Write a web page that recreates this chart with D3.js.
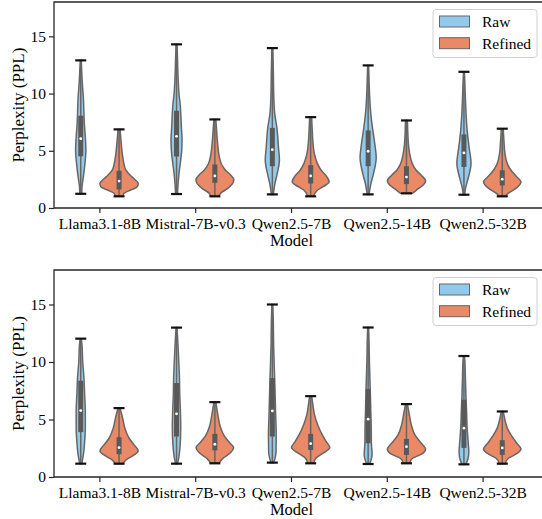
<html>
<head>
<style>
    body { margin: 0px; background: #fff; }
    text { font-family: "Liberation Serif", "Times New Roman", serif; fill: #000; }
</style>
</head>
<body>
<svg id="viz"></svg>
<script src="https://d3js.org/d3.v7.min.js"></script>
<script>
var width = 542, height = 519;

var models = ["Llama3.1-8B", "Mistral-7B-v0.3", "Qwen2.5-7B", "Qwen2.5-14B", "Qwen2.5-32B"];
var groups = ["Raw", "Refined"];
var yTicks = [0, 5, 10, 15];

// [min, q1, median, q3, max] per model
var rawStats1 = [[1.24, 4.52, 6.06, 8.06, 12.9], [1.22, 4.5, 6.26, 8.5, 14.3], [1.19, 3.65, 5.1, 7.0, 13.97], [1.19, 3.65, 4.96, 6.78, 12.46], [1.16, 3.59, 4.81, 6.43, 11.9]];
var refinedStats1 = [[1.02, 1.62, 2.35, 3.25, 6.87], [1.02, 2.2, 2.8, 3.8, 7.74], [1.02, 2.14, 2.8, 3.74, 7.94], [1.28, 2.09, 2.7, 3.65, 7.65], [1.02, 1.97, 2.52, 3.3, 6.93]];
var rawStats2 = [[1.16, 3.9, 5.78, 8.37, 12.03], [1.16, 3.52, 5.49, 8.17, 12.99], [1.25, 3.52, 5.75, 8.6, 15.0], [1.13, 2.93, 5.03, 7.65, 13.0], [1.1, 2.53, 4.25, 6.71, 10.52]];
var refinedStats2 = [[1.16, 1.98, 2.56, 3.46, 5.99], [1.19, 2.32, 2.85, 3.75, 6.51], [1.19, 2.35, 2.9, 3.75, 7.03], [1.19, 1.92, 2.64, 3.31, 6.34], [1.16, 1.92, 2.53, 3.2, 5.7]];

// density profiles: [value, relative density]
var rawShape1 = [
    [[1.24, 1], [1.86, 1.3], [2.72, 2.7], [3.88, 4.3], [5.04, 5.3], [6.2, 4.7], [7.36, 3.7], [8.5, 3.2], [9.68, 2.7], [10.8, 1.7], [12, 1], [12.9, 0.5]],
    [[1.22, 1], [2, 1.5], [3, 2.5], [4, 4], [5, 5.3], [6, 5.7], [7, 5], [8, 4.5], [9, 3.8], [10, 2.5], [11, 1.8], [12, 1.3], [13, 1], [14.3, 0.5]],
    [[1.19, 1], [2.15, 2.7], [3, 5], [4.2, 7.3], [5.3, 6.3], [7, 4.7], [8.2, 2.5], [9.7, 1.5], [12, 1], [13.97, 0.5]],
    [[1.19, 1], [2, 2.5], [3, 5.5], [4.4, 8.3], [5.5, 7], [6.8, 4.8], [8, 3], [9.5, 1.7], [11, 1], [12.46, 0.5]],
    [[1.16, 0.8], [1.57, 1.3], [2.4, 3.7], [3.9, 7.3], [5.3, 5.3], [6.8, 3.3], [8.2, 2.2], [10, 1.3], [11.9, 0.5]]
];
var refinedShape1 = [
    [[1.02, 4], [1.28, 5], [1.57, 12], [1.86, 18.8], [2.15, 19.7], [2.43, 17], [2.72, 13.3], [3.3, 7], [3.88, 5], [4.75, 3.3], [5.9, 2], [6.87, 1]],
    [[1.02, 4], [1.3, 6], [1.7, 13], [2.1, 18], [2.5, 19.5], [2.9, 16], [3.3, 11], [3.8, 7], [4.5, 4.5], [5.5, 3], [6.5, 2], [7.74, 1]],
    [[1.02, 3], [1.3, 4.5], [1.57, 7.2], [1.86, 12.8], [2.29, 19], [2.72, 16.7], [3.3, 10.8], [3.88, 7], [4.75, 3.8], [5.9, 2.2], [7, 1.5], [7.94, 1]],
    [[1.28, 6], [1.57, 10.3], [2.0, 17.3], [2.38, 19.7], [2.88, 15], [3.3, 10], [3.88, 6], [4.75, 3.3], [5.6, 2], [6.8, 1.3], [7.65, 1]],
    [[1.02, 3], [1.28, 6], [1.71, 14], [2.29, 19.3], [2.72, 15], [3.3, 9], [3.88, 5.2], [4.75, 2.8], [5.9, 1.7], [6.93, 1]]
];
var rawShape2 = [
    [[1.16, 1], [1.92, 2.7], [3.08, 4], [4.25, 4.7], [5.7, 4.7], [7.15, 4], [8.6, 3.3], [10.05, 2], [11.5, 1.3], [12.03, 0.5]],
    [[1.16, 1], [1.8, 2.5], [2.79, 3.7], [4.27, 4.3], [5.7, 4], [7.15, 3.3], [8.6, 3], [10.05, 2.3], [11.5, 1.5], [12.99, 0.5]],
    [[1.25, 1.5], [2.2, 3.8], [3.66, 4], [5.7, 3.3], [7.7, 2.7], [9.5, 2], [11.5, 1.3], [13.5, 1], [15, 0.5]],
    [[1.13, 1.5], [1.92, 4], [3.08, 3.3], [4.25, 3.2], [5.7, 2.7], [7.15, 2.3], [8.6, 1.8], [10.05, 1.3], [11.5, 1], [13, 0.5]],
    [[1.1, 2], [1.63, 4.3], [2.2, 5], [3.08, 4.3], [4.25, 3.3], [5.7, 2.7], [7.15, 2], [8.6, 1.5], [10.05, 1], [10.52, 0.5]]
];
var refinedShape2 = [
    [[1.16, 4], [1.48, 7], [1.92, 15.5], [2.27, 19.7], [2.79, 15.5], [3.37, 10.3], [4.25, 6], [5.12, 3.7], [5.99, 1]],
    [[1.19, 4], [1.6, 8], [2.1, 16], [2.56, 19.3], [3.0, 15], [3.6, 9.5], [4.4, 5.5], [5.3, 3.3], [6.51, 1]],
    [[1.19, 3], [1.63, 5.3], [2.07, 12.8], [2.56, 19.7], [3.08, 16], [3.66, 12], [4.53, 7.3], [5.4, 4], [6.28, 2.3], [7.03, 1]],
    [[1.19, 3], [1.63, 6.3], [1.98, 15.5], [2.44, 19.7], [2.93, 15.3], [3.66, 8.7], [4.53, 5], [5.4, 3], [6.34, 1]],
    [[1.16, 3], [1.63, 6.3], [1.98, 14], [2.44, 19.3], [2.93, 15], [3.66, 9], [4.25, 5.2], [4.82, 3.2], [5.7, 1]]
];

var color = d3.scaleOrdinal().domain(groups).range(["#92caec", "#e98966"]);
var edge = "#666666";

var svg = d3.select("#viz").attr("width", width).attr("height", height);

var x = d3.scaleBand().domain(models).range([52, 531]).padding(0);
var xSub = d3.scaleBand().domain(groups).range([0.1 * x.bandwidth(), 0.9 * x.bandwidth()]);
var dens = d3.scaleLinear().domain([0, 19.7]).range([0, xSub.bandwidth() / 2]);

function drawPanel(top, bottom, stats, shapes) {
    var g = svg.append("g");
    var y = d3.scaleLinear().domain([0, 18]).range([bottom, top]);

    groups.forEach(function(grp, gi) {
        models.forEach(function(m, mi) {
            var cx = x(m) + xSub(grp) + xSub.bandwidth() / 2;
            var s = stats[gi][mi];
            var area = d3.area()
                .curve(d3.curveMonotoneY)
                .y(function(d) { return y(d[0]); })
                .x0(function(d) { return cx - dens(d[1]); })
                .x1(function(d) { return cx + dens(d[1]); });
            g.append("path")
                .attr("d", area(shapes[gi][mi]))
                .attr("fill", color(grp))
                .attr("stroke", edge)
                .attr("stroke-width", 1.5);
            // whisker
            g.append("line")
                .attr("x1", cx).attr("x2", cx)
                .attr("y1", y(s[0])).attr("y2", y(s[4]))
                .attr("stroke", edge).attr("stroke-width", 1.5);
            // box
            g.append("rect")
                .attr("x", cx - 2.5).attr("width", 5)
                .attr("y", y(s[3])).attr("height", y(s[1]) - y(s[3]))
                .attr("fill", "#595959");
            g.append("circle")
                .attr("cx", cx).attr("cy", y(s[2])).attr("r", 1.4)
                .attr("fill", "#fff");
            // caps
            [s[0], s[4]].forEach(function(v) {
                g.append("line")
                    .attr("x1", cx - 5.5).attr("x2", cx + 5.5)
                    .attr("y1", y(v)).attr("y2", y(v))
                    .attr("stroke", "#111").attr("stroke-width", 2.2);
            });
        });
    });

    // axes
    var yAxis = g.append("g").attr("transform", "translate(54,0)")
        .call(d3.axisLeft(y).tickValues(yTicks).tickSize(5).tickPadding(3));
    var xAxis = g.append("g").attr("transform", "translate(0," + bottom + ")")
        .call(d3.axisBottom(x).tickSize(5).tickPadding(4));
    [yAxis, xAxis].forEach(function(a) {
        a.select(".domain").remove();
        a.selectAll("line").attr("stroke", "#262626").attr("stroke-width", 1.2);
        a.selectAll("text").attr("font-size", 15.5).attr("font-family", "Liberation Serif").attr("fill", "#000");
    });
    xAxis.selectAll("text").attr("dy", "0.8em");

    // spines
    g.append("path")
        .attr("d", "M542," + top + "H54V" + bottom + "H542")
        .attr("fill", "none").attr("stroke", "#262626").attr("stroke-width", 1.3);

    g.append("text")
        .attr("transform", "translate(24," + ((top + bottom) / 2) + ") rotate(-90)")
        .attr("text-anchor", "middle")
        .attr("font-size", 17)
        .text("Perplexity (PPL)");
    g.append("text")
        .attr("x", x("Qwen2.5-7B") + x.bandwidth() / 2)
        .attr("y", bottom + 38)
        .attr("text-anchor", "middle")
        .attr("font-size", 16.5)
        .text("Model");

    // legend
    var lg = g.append("g").attr("transform", "translate(433," + (top + 7.5) + ")");
    lg.append("rect")
        .attr("width", 104).attr("height", 48).attr("rx", 3)
        .attr("fill", "#fff").attr("fill-opacity", 0.8)
        .attr("stroke", "#d0d0d0").attr("stroke-width", 1);
    groups.forEach(function(grp, i) {
        lg.append("rect")
            .attr("x", 6.5).attr("y", 6.5 + i * 21.7)
            .attr("width", 30).attr("height", 11)
            .attr("fill", color(grp)).attr("stroke", edge).attr("stroke-width", 1);
        lg.append("text")
            .attr("x", 49).attr("y", 17.5 + i * 21.7)
            .attr("font-size", 15.5)
            .text(grp);
    });
}

drawPanel(2, 208, [rawStats1, refinedStats1], [rawShape1, refinedShape1]);
drawPanel(270, 477, [rawStats2, refinedStats2], [rawShape2, refinedShape2]);
</script>
</body>
</html>
